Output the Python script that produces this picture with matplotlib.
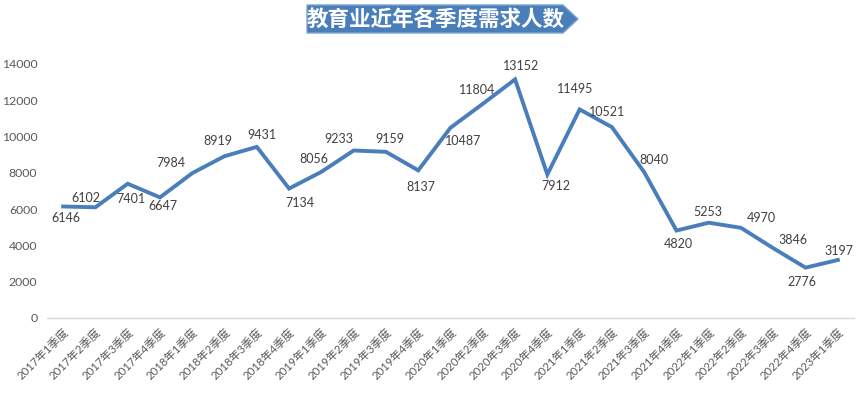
import numpy as np
import matplotlib.pyplot as plt
from matplotlib.patches import Polygon

plt.rcParams['font.family'] = ['Noto Sans CJK SC', 'DejaVu Sans']

quarters = ["2017年1季度", "2017年2季度", "2017年3季度", "2017年4季度",
            "2018年1季度", "2018年2季度", "2018年3季度", "2018年4季度",
            "2019年1季度", "2019年2季度", "2019年3季度", "2019年4季度",
            "2020年1季度", "2020年2季度", "2020年3季度", "2020年4季度",
            "2021年1季度", "2021年2季度", "2021年3季度", "2021年4季度",
            "2022年1季度", "2022年2季度", "2022年3季度", "2022年4季度",
            "2023年1季度"]
demand = [6146, 6102, 7401, 6647, 7984, 8919, 9431, 7134, 8056, 9233,
          9159, 8137, 10487, 11804, 13152, 7912, 11495, 10521, 8040, 4820,
          5253, 4970, 3846, 2776, 3197]
yticks = [0, 2000, 4000, 6000, 8000, 10000, 12000, 14000]

# label offsets in pixels (dx right, dy down) as placed in the original
label_off = [(3, 12), (-10, -9), (3, 15), (3, 9), (-21, -10), (-7, -15),
             (5, -12), (11, 14), (-8, -13), (-15, -11), (4, -13), (3, 17),
             (13, 13), (-6, -14), (6, -13), (9, 12), (-4, -20), (-5, -15),
             (10, -12), (2, 13), (-1, -11), (20, -10), (20, -8), (-4, 14),
             (1, -9)]

W, H = 858, 397
fig = plt.figure(figsize=(W / 100, H / 100), dpi=100)
ax = fig.add_axes([47 / W, 1 - 318 / H, (854 - 47) / W, (318 - 64) / H])

x = np.arange(len(demand))
ax.plot(x, demand, color="#4A7EBB", linewidth=2.8, solid_joinstyle="miter")

for i, v in enumerate(demand):
    dx, dy = label_off[i]
    ax.annotate(str(v), (i, v), xytext=(dx * 0.72, -dy * 0.72), textcoords="offset points",
                ha="center", va="center", fontsize=9, color="#404040", family=["Lato", "DejaVu Sans"])

ax.set_xlim(-0.5, len(demand) - 0.5)
ax.set_ylim(0, 14000)
ax.set_yticks(yticks)
ax.set_yticklabels([str(t) for t in yticks], fontsize=8.8, color="#595959", family=["Lato", "DejaVu Sans"])
ax.set_xticks(x)
ax.set_xticklabels(quarters, rotation=45, ha="right", rotation_mode="anchor",
                   fontsize=8.2, color="#595959", family=["Lato", "Noto Sans CJK SC"])
ax.tick_params(axis="both", length=0)
ax.tick_params(axis="y", pad=7)
ax.tick_params(axis="x", pad=6)
for s in ["top", "right", "left"]:
    ax.spines[s].set_visible(False)
ax.spines["bottom"].set_color("#D9D9D9")
ax.spines["bottom"].set_linewidth(1)

# title banner
bx0, bx1, tip, by0, by1 = 307, 563, 578, 5, 33
pts = [(bx0, by0), (bx1, by0), (tip, (by0 + by1) / 2), (bx1, by1), (bx0, by1)]
pts = [(px / W, 1 - py / H) for px, py in pts]
fig.patches.append(Polygon(pts, closed=True, transform=fig.transFigure,
                           facecolor="#4A7EBB", edgecolor="#7FA3D0", linewidth=1))
fig.text((bx0 + bx1) / 2 / W + 0.001, 1 - (by0 + by1) / 2 / H, "教育业近年各季度需求人数",
         ha="center", va="center", fontsize=15.5, color="white", fontweight="bold")

fig.savefig("out.png", dpi=100)
